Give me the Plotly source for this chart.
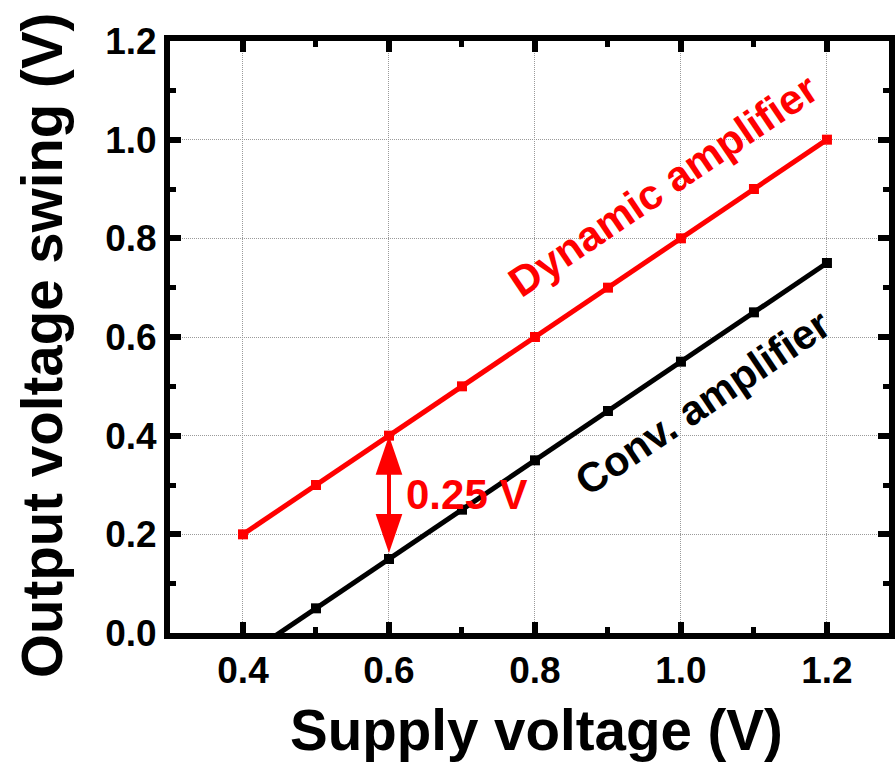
import plotly.graph_objects as go

# Data
supply_v = [0.4, 0.5, 0.6, 0.7, 0.8, 0.9, 1.0, 1.1, 1.2]
dynamic_swing = [0.20, 0.30, 0.40, 0.50, 0.60, 0.70, 0.80, 0.90, 1.00]
conv_swing = [-0.05, 0.05, 0.15, 0.25, 0.35, 0.45, 0.55, 0.65, 0.75]

x_title = "Supply voltage (V)"
y_title = "Output voltage swing (V)"
dyn_label = "Dynamic amplifier"
conv_label = "Conv. amplifier"
diff_label = "0.25 V"
arrow_at = 0.6

FONT = "Liberation Sans, Arial, sans-serif"
RED = "#ff0000"

fig = go.Figure()
fig.add_trace(go.Scatter(x=supply_v, y=dynamic_swing, mode="lines+markers",
                         line=dict(color=RED, width=5),
                         marker=dict(symbol="square", size=10, color=RED),
                         cliponaxis=True, showlegend=False))
fig.add_trace(go.Scatter(x=supply_v, y=conv_swing, mode="lines+markers",
                         line=dict(color="black", width=5),
                         marker=dict(symbol="square", size=10, color="black"),
                         cliponaxis=True, showlegend=False))

axis_common = dict(
    ticks="inside", ticklen=11, tickwidth=6, tickcolor="black",
    showline=True, linewidth=6, linecolor="black", mirror="allticks",
    showgrid=True, gridcolor="#9a9a9a", griddash="1px,1px", gridwidth=1,
    zeroline=False, tickformat=".1f",
    tickfont=dict(family=FONT, size=37, color="black", weight="bold"),
    tickmode="linear", tick0=0, dtick=0.2,
    minor=dict(tick0=0, dtick=0.1, ticks="inside", ticklen=6, tickwidth=5,
               tickcolor="black", showgrid=False),
)
fig.update_xaxes(range=[0.3, 1.285], **axis_common)
fig.update_yaxes(range=[0, 1.2], **axis_common)

# arrow between the two curves at 0.6 V
i = supply_v.index(arrow_at)
y_top = dynamic_swing[i]
y_bot = conv_swing[i] + 0.012
head_h = 0.079
head_w = 0.0183
fig.add_shape(type="line", x0=arrow_at, x1=arrow_at, y0=y_bot + head_h / 2, y1=y_top - head_h / 2,
              xref="x", yref="y", line=dict(color=RED, width=4))
fig.add_shape(type="path", xref="x", yref="y", fillcolor=RED, line=dict(width=0),
              path=f"M {arrow_at},{y_top} L {arrow_at - head_w},{y_top - head_h} L {arrow_at + head_w},{y_top - head_h} Z")
fig.add_shape(type="path", xref="x", yref="y", fillcolor=RED, line=dict(width=0),
              path=f"M {arrow_at},{y_bot} L {arrow_at - head_w},{y_bot + head_h} L {arrow_at + head_w},{y_bot + head_h} Z")

annos = [
    dict(text=dyn_label, x=0.975, y=0.908, xref="x", yref="y", textangle=-34,
         font=dict(family=FONT, size=42, color=RED, weight="bold"), showarrow=False),
    dict(text=conv_label, x=1.029, y=0.468, xref="x", yref="y", textangle=-34,
         font=dict(family=FONT, size=41.5, color="black", weight="bold"), showarrow=False),
    dict(text=diff_label, x=0.706, y=0.280, xref="x", yref="y",
         font=dict(family=FONT, size=42, color=RED, weight="bold"), showarrow=False),
    dict(text=x_title, x=0.5103, y=-0.1655, xref="paper", yref="paper",
         xanchor="center", yanchor="middle",
         font=dict(family=FONT, size=56.5, color="black", weight="bold"), showarrow=False),
    dict(text=y_title, x=-0.1766, y=0.4848, xref="paper", yref="paper", textangle=-90,
         xanchor="center", yanchor="middle",
         font=dict(family=FONT, size=56.5, color="black", weight="bold"), showarrow=False),
]
fig.update_layout(
    width=895, height=763,
    margin=dict(l=170, r=0, t=41, b=130),
    paper_bgcolor="white", plot_bgcolor="white",
    annotations=annos,
    showlegend=False,
)
fig.write_html("out.html")
